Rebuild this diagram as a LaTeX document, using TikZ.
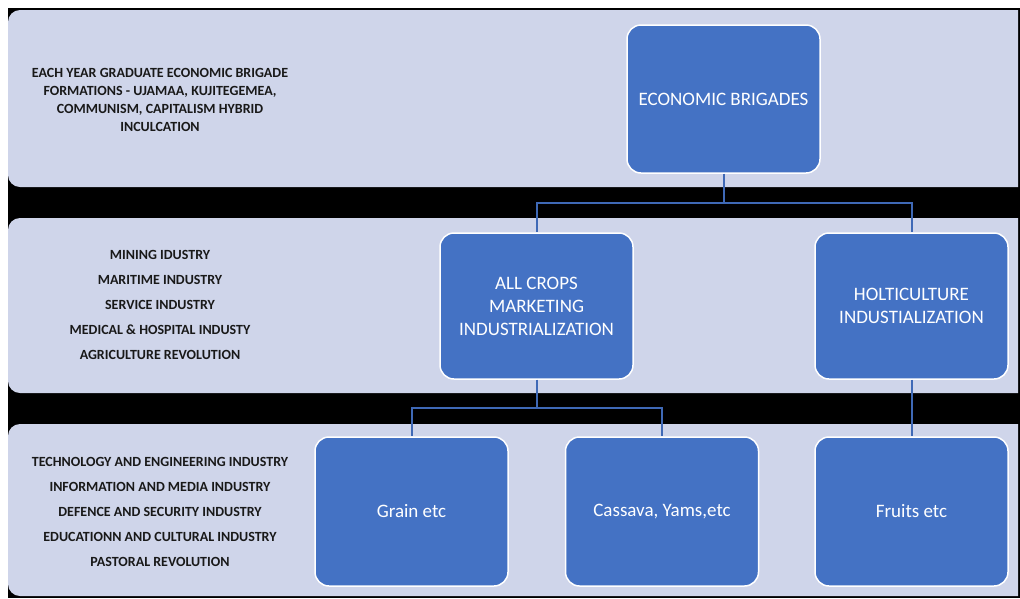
\documentclass[tikz,border=0pt]{standalone}
\usepackage{fontspec}
\setmainfont{Carlito}
\usepackage{tikz}

\definecolor{bandfill}{HTML}{CFD5EA}
\definecolor{boxblue}{HTML}{4472C4}
\definecolor{linkblue}{HTML}{3F69B6}

\begin{document}
\begin{tikzpicture}[x=1pt, y=-1pt,
	main/.style = {draw=white, line width=1.5pt, fill=boxblue, rounded corners=14pt, minimum width=193pt, text=white, align=center, font=\fontsize{19}{23}\selectfont},
	side/.style = {align=center, text=black!90, font=\bfseries\fontsize{14}{25}\selectfont},
	link/.style = {draw=linkblue, line width=2pt}]
	\useasboundingbox (0,0) rectangle (1020,598);
	\fill[black] (8,8) rectangle (1020,598);
	\begin{scope}
		\clip (0,0) rectangle (1018,598);
		\fill[bandfill, rounded corners=12pt] (8,10) rectangle (1040,187);
		\fill[bandfill, rounded corners=12pt] (8,218) rectangle (1040,393);
		\fill[bandfill, rounded corners=12pt] (8,424) rectangle (1040,596);
	\end{scope}
	% left column
	\node[side, font=\bfseries\fontsize{14}{18.3}\selectfont] (formations) at (160,100) {EACH YEAR GRADUATE ECONOMIC BRIGADE\\FORMATIONS - UJAMAA, KUJITEGEMEA,\\COMMUNISM, CAPITALISM HYBRID\\INCULCATION};
	\node[side] (sectors) at (160,304.5) {MINING IDUSTRY\\MARITIME INDUSTRY\\SERVICE INDUSTRY\\MEDICAL \& HOSPITAL INDUSTY\\AGRICULTURE REVOLUTION};
	\node[side] (revolution) at (160,512) {TECHNOLOGY AND ENGINEERING INDUSTRY\\INFORMATION AND MEDIA INDUSTRY\\DEFENCE AND SECURITY INDUSTRY\\EDUCATIONN AND CULTURAL INDUSTRY\\PASTORAL REVOLUTION};
	% boxes
	\node[main, minimum height=148pt] (brigades) at (723.5,99) {ECONOMIC BRIGADES};
	\node[main, minimum height=146pt] (crops) at (536.5,306) {ALL CROPS\\MARKETING\\INDUSTRIALIZATION};
	\node[main, minimum height=146pt] (holt) at (911.5,306) {HOLTICULTURE\\INDUSTIALIZATION};
	\node[main, minimum height=149pt] (grain) at (411.5,511.5) {Grain etc};
	\node[main, minimum height=149pt] (cassava) at (662,511.5) {Cassava, Yams,etc};
	\node[main, minimum height=149pt] (fruits) at (911.5,511.5) {Fruits etc};
	% links
	\draw[link] (brigades.south) -- ++(0,29) -| (crops.north);
	\draw[link] (brigades.south) -- ++(0,29) -| (holt.north);
	\draw[link] (crops.south) -- ++(0,28) -| (grain.north);
	\draw[link] (crops.south) -- ++(0,28) -| (cassava.north);
	\draw[link] (holt.south) -- (fruits.north);
\end{tikzpicture}
\end{document}
